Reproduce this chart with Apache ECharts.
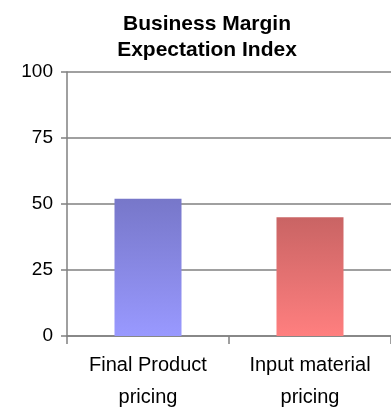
<!DOCTYPE html>
<html>
<head>
<meta charset="utf-8">
<script src="https://cdn.jsdelivr.net/npm/echarts@6/dist/echarts.min.js"></script>
<style>
  html, body { margin: 0; padding: 0; background: #fff; }
  #chart { width: 391px; height: 409px; }
</style>
</head>
<body>
<div id="chart"></div>
<script>
const categories = ["Final Product\npricing", "Input material\npricing"];
const values = [52, 45];
const yTicks = [0, 25, 50, 75, 100];

const barColors = [
  ["#7777c9", "#9999ff"],
  ["#c96464", "#ff7f7f"],
];

const chart = echarts.init(document.getElementById("chart"));
const font = "Liberation Sans, Arial, sans-serif";

chart.setOption({
  backgroundColor: "#ffffff",
  animation: false,
  title: {
    text: "Business Margin\nExpectation Index",
    left: 202,
    top: 6,
    textAlign: "center",
    textStyle: {
      fontFamily: font,
      fontSize: 21,
      fontWeight: "bold",
      color: "#000",
      lineHeight: 26,
    },
  },
  grid: { left: 67, right: 0, top: 72, bottom: 73, outerBoundsMode: "none" },
  xAxis: {
    type: "category",
    data: categories,
    axisLine: { lineStyle: { color: "#808080", width: 1.5 } },
    axisTick: { show: true, length: 8, lineStyle: { color: "#808080", width: 1.5 } },
    axisLabel: {
      color: "#000",
      fontFamily: font,
      fontSize: 20,
      lineHeight: 32,
      margin: 13,
    },
  },
  yAxis: {
    type: "value",
    min: yTicks[0],
    max: yTicks[yTicks.length - 1],
    interval: 25,
    axisLine: { show: true, lineStyle: { color: "#808080", width: 1.5 } },
    axisTick: { show: true, length: 6, lineStyle: { color: "#808080", width: 1.5 } },
    splitLine: { lineStyle: { color: "#808080", width: 1.5 } },
    axisLabel: {
      color: "#000",
      fontFamily: font,
      fontSize: 19,
      margin: 14,
    },
  },
  series: [
    {
      type: "bar",
      barWidth: 67,
      data: values.map((v, i) => ({
        value: v,
        itemStyle: {
          color: {
            type: "linear",
            x: 0, y: 0, x2: 0, y2: 1,
            colorStops: [
              { offset: 0, color: barColors[i][0] },
              { offset: 1, color: barColors[i][1] },
            ],
          },
        },
      })),
    },
  ],
});
</script>
</body>
</html>
